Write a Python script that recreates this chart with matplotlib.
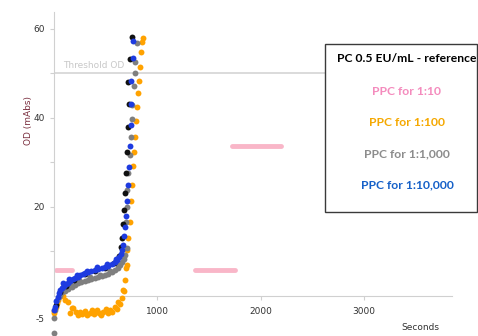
import matplotlib.pyplot as plt
from matplotlib.patches import Rectangle

# Reaction kinetics: optical density over time for each dilution
orange_t = [0, 8, 20, 34, 46, 60, 79, 95, 115, 143, 159, 175, 191, 215, 235, 256, 280, 300, 325,
            353, 375, 395, 417, 440, 460, 481, 505, 525, 546, 570, 594, 612, 626, 642, 659, 675,
            684, 691, 700, 707, 713, 723, 739, 749, 755, 765, 778, 787, 797, 804, 813, 826, 836,
            845, 852, 862]
orange_od = [-3.8, -3.3, -2.4, -1.6, -0.9, 0.4, 1.3, -0.1, -0.8, -1.3, -3.9, -2.6, -2.8, -3.6,
             -4.3, -3.5, -4.0, -3.4, -4.2, -3.9, -3.2, -4.1, -3.1, -3.8, -4.2, -3.5, -3.0, -3.9,
             -3.1, -3.6, -2.4, -2.9, -1.3, -1.8, -0.5, 1.3, 1.0, 3.6, 6.2, 7.0, 10.3, 13.0, 16.7,
             21.4, 25.0, 29.2, 32.4, 35.8, 39.2, 42.5, 45.5, 48.2, 51.5, 54.7, 57.0, 58.0]

gray_t = [0, 0, 14, 34, 50, 63, 85, 110, 140, 175, 208, 240, 270, 304, 335, 365, 401, 430, 465,
          498, 530, 565, 595, 623, 645, 662, 678, 691, 710, 700, 707, 713, 723, 739, 749, 755,
          762, 778, 787, 787, 804, 90, 160, 250, 350, 450, 550, 620]
gray_od = [-5.0, -8.3, -3.1, -0.9, -0.2, 0.2, 0.9, 1.0, 1.6, 2.0, 2.5, 2.9, 3.1, 3.4, 3.6, 3.8,
           4.0, 4.2, 4.5, 4.7, 5.0, 5.4, 5.8, 6.3, 6.9, 7.6, 8.3, 9.2, 10.8, 16.7, 20.0, 23.8,
           27.6, 31.7, 35.8, 39.8, 42.9, 47.2, 50.0, 52.6, 56.8, 1.9, 2.6, 3.5, 4.2, 4.8, 5.6, 7.0]

black_t = [20, 60, 120, 200, 300, 400, 500, 580, 630, 650, 659, 668, 681, 691, 700, 707, 723, 730,
           723, 739, 760]
black_od = [-2.0, 0.8, 2.2, 3.6, 4.9, 5.6, 6.3, 7.4, 9.0, 11.0, 13.0, 16.2, 19.3, 23.2, 27.7,
            32.4, 38.0, 43.1, 48.0, 53.2, 58.2]

blue_t = [0, 10, 25, 40, 52, 63, 80, 100, 120, 140, 160, 185, 208, 235, 260, 285, 304, 330, 360,
          401, 430, 465, 498, 530, 565, 590, 614, 635, 652, 665, 675, 681, 688, 697, 707, 716,
          730, 739, 746, 746, 746, 765, 771, 90, 150, 230, 320, 420, 520, 600]
blue_od = [-3.2, -2.4, -1.2, -0.2, 0.6, 1.3, 1.8, 2.3, 2.6, 2.9, 3.3, 3.7, 4.0, 4.3, 4.6, 4.9,
           5.2, 5.4, 5.6, 5.8, 6.1, 6.3, 6.5, 6.8, 7.2, 7.6, 8.1, 8.7, 9.4, 10.4, 11.5, 13.5,
           15.6, 18.0, 21.4, 25.0, 29.0, 33.7, 38.4, 43.1, 48.2, 53.4, 57.3, 2.9, 3.8, 4.8, 5.7,
           6.4, 7.2, 8.3]

# 1:10 dilution only shows flat plateaus
pink_start = [20, 1370, 1725]
pink_end = [175, 1755, 2200]
pink_od = [5.8, 5.8, 33.7]

threshold = 50

legend_title = "PC 0.5 EU/mL - reference"
legend_labels = ["PPC for 1:10", "PPC for 1:100", "PPC for 1:1,000", "PPC for 1:10,000"]
legend_colors = ["#f48bbd", "#f5a800", "#8c8c8c", "#1560c8"]

fig = plt.figure(figsize=(4.78, 3.36), dpi=100)
ax = fig.add_axes([53.5 / 478, 0, 1 - 53.5 / 478, 324 / 336])
ax.set_xlim(0, (478 - 53.5) / 0.1035)
ax.set_ylim(-9, 63.8)

ax.axhline(threshold, color="#d4d4d4", lw=1.2, zorder=1)
ax.text(90, 51.8, "Threshold OD", color="#c8c8c8", fontsize=6.5, va="center")

pink = ax.hlines(pink_od, pink_start, pink_end, color="#f9b6c8", lw=3.5, zorder=2)
pink.set_capstyle("round")

dot = dict(s=18, linewidths=0, clip_on=False, zorder=3)
ax.scatter(orange_t, orange_od, color="#ffa200", **dot)
ax.scatter(gray_t, gray_od, color="#7f7f7f", **dot)
ax.scatter(black_t, black_od, color="#111111", **dot)
ax.scatter(blue_t, blue_od, color="#1e3be0", **dot)

for side in ["top", "right"]:
    ax.spines[side].set_visible(False)
ax.spines["left"].set_bounds(0, 63.8)
ax.spines["left"].set_color("#d0d0d0")
ax.spines["bottom"].set_position(("data", 0))
ax.spines["bottom"].set_bounds(0, 3850)
ax.spines["bottom"].set_color("#d0d0d0")

ax.set_xticks([1000, 2000, 3000])
ax.set_yticks([-5, 10, 20, 30, 40, 50, 60])
ax.set_yticklabels(["-5", "", "20", "", "40", "", "60"])
ax.tick_params(axis="both", colors="#d0d0d0", labelcolor="#333333", labelsize=6.5, length=3)
ax.tick_params(axis="x", pad=5)
ax.yaxis.get_major_ticks()[0].tick1line.set_visible(False)

fig.text(28 / 478, 1 - 120 / 336, "OD (mAbs)", rotation=90, color="#7a2e3e", fontsize=6.5,
         ha="center", va="center")
fig.text(420 / 478, 1 - 328 / 336, "Seconds", color="#333333", fontsize=6.5,
         ha="center", va="center")

# Legend panel drawn as a boxed list of coloured labels
fig.patches.append(Rectangle((325 / 478, 1 - 212 / 336), 152 / 478, 168 / 336,
                             transform=fig.transFigure, facecolor="white",
                             edgecolor="#3a3a3a", lw=1, zorder=5))
fig.text(407 / 478, 1 - 59 / 336, legend_title, color="black", fontsize=8.7,
         fontweight="bold", family="Lato", ha="center", va="center", zorder=6)
for i, (label, color) in enumerate(zip(legend_labels, legend_colors)):
    fig.text(407 / 478, 1 - (91.5 + 31.2 * i) / 336, label, color=color, fontsize=8.7,
             fontweight="bold", family="Lato", ha="center", va="center", zorder=6)

fig.savefig("out.png", dpi=100)
